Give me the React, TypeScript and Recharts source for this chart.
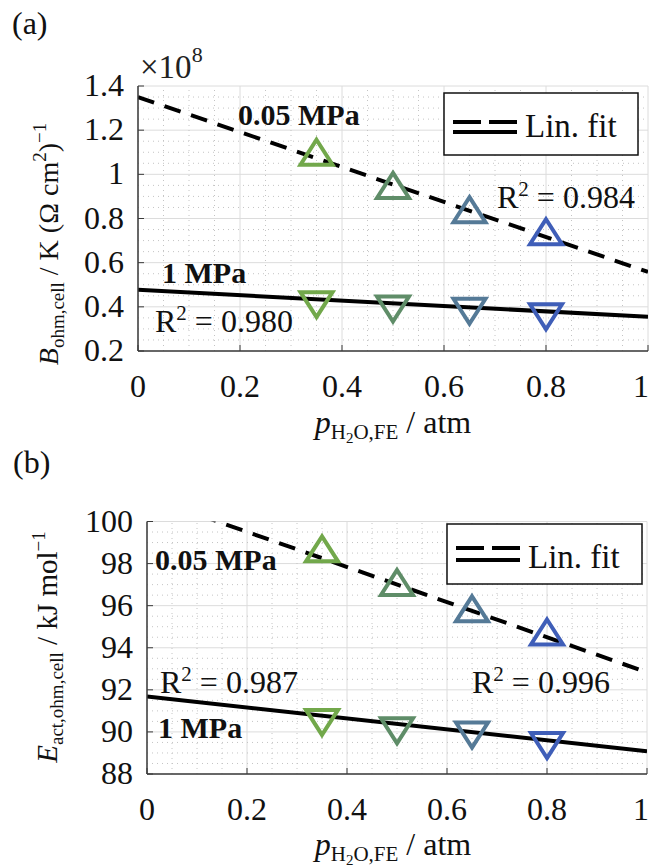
import React from "react";
import { ComposedChart, Line, Scatter, XAxis, YAxis, CartesianGrid, ReferenceLine } from "recharts";

// shared x values (water partial pressure, atm)
const xTicks = [0, 0.2, 0.4, 0.6, 0.8, 1];
const pH2O = [0.35, 0.5, 0.65, 0.8];
const markerColors = ["#72a84b", "#5f8d68", "#557a97", "#3f5eb8"];
const fitX = [0, 1];

// (a) B_ohm,cell  (x1e8)
const bTicks = [0.2, 0.4, 0.6, 0.8, 1, 1.2, 1.4];
const bLowP = [1.1, 0.95, 0.84, 0.74];
const bHighP = [0.41, 0.39, 0.38, 0.355];
const bFitLowP = [1.35, 0.558];
const bFitHighP = [0.477, 0.355];

// (b) E_act,ohm,cell
const eTicks = [88, 90, 92, 94, 96, 98, 100];
const eLowP = [98.7, 97.1, 95.85, 94.75];
const eHighP = [90.45, 90.05, 89.85, 89.35];
const eFitLowP = [101.18, 92.83];
const eFitHighP = [91.68, 89.08];

const FONT = "'Liberation Serif', 'DejaVu Serif', serif";
const AX = "#3a3a3a";

const pts = (ys: number[]) => pH2O.map((x, i) => ({ x, y: ys[i], c: markerColors[i] }));
const fit = (ys: number[]) => fitX.map((x, i) => ({ x, y: ys[i] }));

function minorSteps(lo: number, hi: number, step: number, major: number[]) {
  const out: number[] = [];
  const n = Math.round((hi - lo) / step);
  for (let i = 1; i < n; i++) {
    const v = +(lo + i * step).toFixed(4);
    if (!major.some((m) => Math.abs(m - v) < 1e-6)) out.push(v);
  }
  return out;
}

function Tri(props: any) {
  const { cx, cy, payload, up } = props;
  if (cx == null || cy == null) return null;
  const w = 32;
  const h = 25;
  const d = up
    ? `M${cx},${cy - h / 2} L${cx + w / 2},${cy + h / 2} L${cx - w / 2},${cy + h / 2} Z`
    : `M${cx},${cy + h / 2} L${cx + w / 2},${cy - h / 2} L${cx - w / 2},${cy - h / 2} Z`;
  return <path d={d} fill="none" stroke={payload.c} strokeWidth={4} strokeLinejoin="miter" />;
}

const tickText = { fontFamily: FONT, fontSize: 32, fill: "#111" };

const LeftTick = (props: any) => {
  const { x, y, payload } = props;
  return (
    <g>
      <line x1={x} x2={x + 6} y1={y} y2={y} stroke={AX} />
      <text x={x - 14} y={y + 10} textAnchor="end" {...tickText}>{String(payload.value)}</text>
    </g>
  );
};
const RightTick = (props: any) => {
  const { x, y } = props;
  return <line x1={x} x2={x - 6} y1={y} y2={y} stroke={AX} />;
};
const BottomTick = (props: any) => {
  const { x, y, payload } = props;
  const last = payload.value === 1;
  return (
    <g>
      <line x1={x} x2={x} y1={y} y2={y - 6} stroke={AX} />
      <text x={last ? 649 : x} y={y + 46} textAnchor={last ? "end" : "middle"} {...tickText}>
        {String(payload.value)}
      </text>
    </g>
  );
};
const TopTick = (props: any) => {
  const { x, y } = props;
  return <line x1={x} x2={x} y1={y} y2={y + 6} stroke={AX} />;
};

function Panel(p: {
  height: number;
  margin: { top: number; right: number; bottom: number; left: number };
  yTicks: number[];
  minorY: number;
  low: number[];
  high: number[];
  fitLow: number[];
  fitHigh: number[];
}) {
  const yDom: [number, number] = [p.yTicks[0], p.yTicks[p.yTicks.length - 1]];
  const minorX = minorSteps(0, 1, 0.05, xTicks);
  const minorYs = minorSteps(yDom[0], yDom[1], p.minorY, p.yTicks);
  const axisLine = { stroke: AX, strokeWidth: 1.5 };
  return (
    <ComposedChart width={650} height={p.height} margin={p.margin}>
      <CartesianGrid stroke="#dcdcdc" strokeWidth={1} />
      {minorX.map((v) => (
        <ReferenceLine key={"mx" + v} x={v} stroke="#c4c4c4" strokeDasharray="1 4" />
      ))}
      {minorYs.map((v) => (
        <ReferenceLine key={"my" + v} y={v} stroke="#c4c4c4" strokeDasharray="1 4" />
      ))}
      <XAxis
        dataKey="x"
        type="number"
        domain={[0, 1]}
        ticks={xTicks}
        interval={0}
        allowDataOverflow
        height={40}
        tickSize={0}
        tickMargin={0}
        tickLine={false}
        axisLine={axisLine}
        tick={(t: any) => <BottomTick {...t} />}
      />
      <XAxis
        xAxisId="top"
        orientation="top"
        dataKey="x"
        type="number"
        domain={[0, 1]}
        ticks={xTicks}
        interval={0}
        allowDataOverflow
        height={0}
        tickSize={0}
        tickMargin={0}
        tickLine={false}
        axisLine={axisLine}
        tick={(t: any) => <TopTick {...t} />}
      />
      <YAxis
        type="number"
        domain={yDom}
        ticks={p.yTicks}
        interval={0}
        allowDataOverflow
        width={60}
        tickSize={0}
        tickMargin={0}
        tickLine={false}
        axisLine={axisLine}
        tick={(t: any) => <LeftTick {...t} />}
      />
      <YAxis
        yAxisId="right"
        orientation="right"
        type="number"
        domain={yDom}
        ticks={p.yTicks}
        interval={0}
        allowDataOverflow
        width={0}
        tickSize={0}
        tickMargin={0}
        tickLine={false}
        axisLine={axisLine}
        tick={(t: any) => <RightTick {...t} />}
      />
      <Scatter data={pts(p.low)} dataKey="y" isAnimationActive={false} shape={(s: any) => <Tri {...s} up />} />
      <Scatter data={pts(p.high)} dataKey="y" isAnimationActive={false} shape={(s: any) => <Tri {...s} up={false} />} />
      <Line
        data={fit(p.fitLow)}
        dataKey="y"
        type="linear"
        stroke="#000"
        strokeWidth={4}
        strokeDasharray="17 11"
        dot={false}
        activeDot={false}
        isAnimationActive={false}
      />
      <Line
        data={fit(p.fitHigh)}
        dataKey="y"
        type="linear"
        stroke="#000"
        strokeWidth={4}
        dot={false}
        activeDot={false}
        isAnimationActive={false}
      />
    </ComposedChart>
  );
}

function LegendBox({ x, y, w, h, dashY, solidY }: { x: number; y: number; w: number; h: number; dashY: number; solidY: number }) {
  return (
    <g>
      <rect x={x} y={y} width={w} height={h} fill="#fff" stroke="#111" strokeWidth={1.5} />
      <line x1={x + 9} x2={x + 73} y1={y + dashY} y2={y + dashY} stroke="#000" strokeWidth={4} strokeDasharray="28 8" />
      <line x1={x + 9} x2={x + 73} y1={y + solidY} y2={y + solidY} stroke="#000" strokeWidth={4} />
      <text x={x + 81} y={y + 44} fontFamily={FONT} fontSize={33} fill="#111">Lin. fit</text>
    </g>
  );
}

function Note({ x, y, children, bold }: { x: number; y: number; children: React.ReactNode; bold?: boolean }) {
  return (
    <text x={x} y={y} fontFamily={FONT} fontSize={bold ? 30 : 32} fontWeight={bold ? "bold" : "normal"} fill="#111">
      {children}
    </text>
  );
}

const R2 = ({ x, y, v }: { x: number; y: number; v: string }) => (
  <Note x={x} y={y}>
    R<tspan fontSize={21} dy={-12}>2</tspan>
    <tspan dy={12}> = {v}</tspan>
  </Note>
);

const XLabel = ({ y }: { y: number }) => (
  <text x={393} y={y} textAnchor="middle" fontFamily={FONT} fontSize={32} fill="#111">
    <tspan fontStyle="italic">p</tspan>
    <tspan fontSize={21} dy={6}>H</tspan>
    <tspan fontSize={15} dy={4}>2</tspan>
    <tspan fontSize={21} dy={-4}>O,FE</tspan>
    <tspan dy={-6}> / atm</tspan>
  </text>
);

export default function App() {
  return (
    <div style={{ position: "absolute", left: 0, top: 0, width: 650, height: 867, background: "#fff", overflow: "hidden" }}>
      <div style={{ position: "absolute", left: 0, top: 0 }}>
        <Panel
          height={430}
          margin={{ top: 86, right: 2, bottom: 39, left: 78 }}
          yTicks={bTicks}
          minorY={0.05}
          low={bLowP}
          high={bHighP}
          fitLow={bFitLowP}
          fitHigh={bFitHighP}
        />
      </div>
      <div style={{ position: "absolute", left: 0, top: 430 }}>
        <Panel
          height={437}
          margin={{ top: 91.5, right: 3, bottom: 53, left: 87 }}
          yTicks={eTicks}
          minorY={0.5}
          low={eLowP}
          high={eHighP}
          fitLow={eFitLowP}
          fitHigh={eFitHighP}
        />
      </div>
      <svg width={650} height={867} style={{ position: "absolute", left: 0, top: 0, pointerEvents: "none" }}>
        <text x={12} y={34} fontFamily={FONT} fontSize={32} fill="#111">(a)</text>
        <text x={13} y={473} fontFamily={FONT} fontSize={32} fill="#111">(b)</text>

        <text x={140} y={78} fontFamily={FONT} fontSize={33} fill="#222">
          ×10<tspan fontSize={22} dy={-16}>8</tspan>
        </text>

        <text transform="translate(58,244) rotate(-90)" textAnchor="middle" fontFamily={FONT} fontSize={28} fill="#111">
          <tspan fontStyle="italic">B</tspan>
          <tspan fontSize={19} dy={6}>ohm,cell</tspan>
          <tspan dy={-6}> / K (Ω cm</tspan>
          <tspan fontSize={19} dy={-12}>2</tspan>
          <tspan dy={12}>)</tspan>
          <tspan fontSize={19} dy={-12}>−1</tspan>
        </text>
        <text transform="translate(57,647) rotate(-90)" textAnchor="middle" fontFamily={FONT} fontSize={29} fill="#111">
          <tspan fontStyle="italic">E</tspan>
          <tspan fontSize={19} dy={6}>act,ohm,cell</tspan>
          <tspan dy={-6}> / kJ mol</tspan>
          <tspan fontSize={19} dy={-12}>−1</tspan>
        </text>

        <XLabel y={433} />
        <XLabel y={855} />

        <LegendBox x={444} y={93} w={194} h={62} dashY={29} solidY={39} />
        <LegendBox x={447} y={524} w={195} h={60} dashY={24} solidY={36} />

        <Note x={238} y={125} bold>0.05 MPa</Note>
        <Note x={162} y={283} bold>1 MPa</Note>
        <R2 x={155} y={332} v="0.980" />
        <R2 x={497} y={208} v="0.984" />

        <Note x={155} y={570} bold>0.05 MPa</Note>
        <Note x={158} y={738} bold>1 MPa</Note>
        <R2 x={160} y={693} v="0.987" />
        <R2 x={472} y={693} v="0.996" />
      </svg>
    </div>
  );
}
